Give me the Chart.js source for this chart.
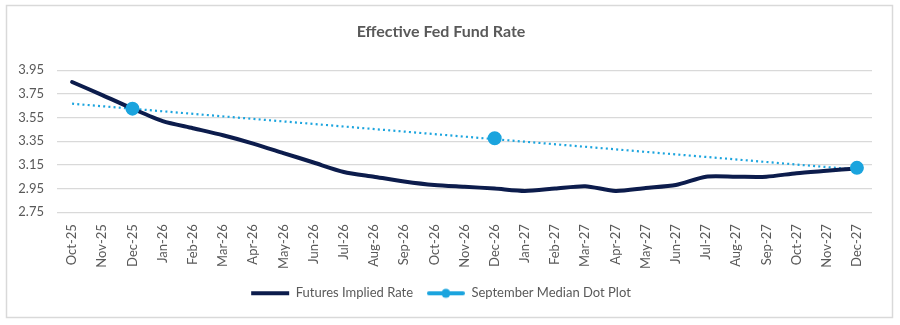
<!DOCTYPE html>
<html>
<head>
<meta charset="utf-8">
<script src="https://cdn.jsdelivr.net/npm/chart.js@4.4.1/dist/chart.umd.min.js"></script>
<style>
html,body{margin:0;padding:0;background:#fff;}
#wrap{position:absolute;left:0;top:0;width:900px;height:325px;}
</style>
</head>
<body>
<div id="wrap"><canvas id="c" width="900" height="325"></canvas></div>
<script>
const categories = ["Oct-25","Nov-25","Dec-25","Jan-26","Feb-26","Mar-26","Apr-26","May-26","Jun-26","Jul-26","Aug-26","Sep-26","Oct-26","Nov-26","Dec-26","Jan-27","Feb-27","Mar-27","Apr-27","May-27","Jun-27","Jul-27","Aug-27","Sep-27","Oct-27","Nov-27","Dec-27"];
const futuresImplied = [3.85,3.74,3.625,3.52,3.46,3.40,3.33,3.25,3.17,3.09,3.05,3.01,2.98,2.965,2.95,2.93,2.95,2.97,2.93,2.955,2.98,3.05,3.05,3.05,3.08,3.10,3.12];
const dotPlot = [null,null,3.625,null,null,null,null,null,null,null,null,null,null,null,3.375,null,null,null,null,null,null,null,null,null,null,null,3.125];
const dotTrend = [3.667,null,null,null,null,null,null,null,null,null,null,null,null,null,null,null,null,null,null,null,null,null,null,null,null,null,3.11];
const yTicks = [3.95,3.75,3.55,3.35,3.15,2.95,2.75];

const NAVY = '#0c1c4c';
const BLUE = '#1ba4de';
const GREY = '#595959';
const FONT = 'Lato, "Open Sans", sans-serif';

// legend swatch for the dot plot series: line with a marker
const sw = document.createElement('canvas');
sw.width = 38; sw.height = 12;
(function(){
  const g = sw.getContext('2d');
  g.strokeStyle = BLUE; g.lineWidth = 4; g.lineCap='round';
  g.beginPath(); g.moveTo(2,6); g.lineTo(36,6); g.stroke();
  g.fillStyle = BLUE; g.beginPath(); g.arc(19,6,4.5,0,Math.PI*2); g.fill();
})();

const frame = {
  id:'frame',
  beforeDraw(chart){
    const ctx = chart.ctx;
    ctx.save();
    ctx.fillStyle='#fff'; ctx.fillRect(0,0,chart.width,chart.height);
    ctx.strokeStyle='#d9d9d9'; ctx.lineWidth=1.5;
    ctx.strokeRect(6.5,5.5,886,312);
    ctx.restore();
  }
};

new Chart(document.getElementById('c'), {
  type:'line',
  data:{
    labels: categories,
    datasets:[
      {label:'Futures Implied Rate', data:futuresImplied, borderColor:NAVY, backgroundColor:NAVY, borderWidth:4, pointRadius:0, tension:0.25, order:1, borderCapStyle:'round', borderJoinStyle:'round'},
      {label:'September Median Dot Plot', data:dotPlot, borderColor:BLUE, backgroundColor:BLUE, borderWidth:4, pointRadius:5, pointBackgroundColor:BLUE, pointBorderColor:BLUE, showLine:false, spanGaps:false, order:0},
      {label:'trend', data:dotTrend, borderColor:BLUE, borderWidth:2.2, borderDash:[2,3.2], pointRadius:0, spanGaps:true, order:2}
    ]
  },
  options:{
    responsive:false,
    animation:false,
    layout:{padding:{left:10,right:28,top:0,bottom:15.2}},
    plugins:{
      tooltip:{enabled:false},
      title:{display:true,text:'Effective Fed Fund Rate',color:GREY,font:{family:FONT,size:16,weight:'bold'},padding:{top:22,bottom:29}},
      legend:{
        position:'bottom',
        labels:{
          color:GREY,
          font:{family:FONT,size:13},
          usePointStyle:true,
          pointStyleWidth:38,
          boxHeight:10,
          padding:13.8,
          sort:(a,b)=>a.datasetIndex-b.datasetIndex,
          generateLabels(chart){
            const items = Chart.defaults.plugins.legend.labels.generateLabels(chart).filter(i=>i.text!=='trend');
            items.forEach(i=>{
              if(i.datasetIndex===0){ i.pointStyle='line'; i.lineWidth=4; i.strokeStyle=NAVY; }
              else { i.pointStyle=sw; }
            });
            return items;
          }
        }
      }
    },
    scales:{
      x:{
        offset:true,
        grid:{display:false},
        border:{display:false},
        ticks:{color:GREY,font:{family:FONT,size:13},maxRotation:90,minRotation:90,autoSkip:false,padding:4}
      },
      y:{
        min:2.75,max:3.95,
        grid:{color:'#d9d9d9',lineWidth:1.3,drawTicks:false},
        border:{display:false},
        afterBuildTicks(s){ s.ticks = yTicks.map(v=>({value:v})); },
        afterFit(s){ s.width = 47; },
        ticks:{color:GREY,font:{family:FONT,size:13},padding:13,callback:(v)=>Number(v).toFixed(2)}
      }
    }
  },
  plugins:[frame]
});
</script>
</body>
</html>
